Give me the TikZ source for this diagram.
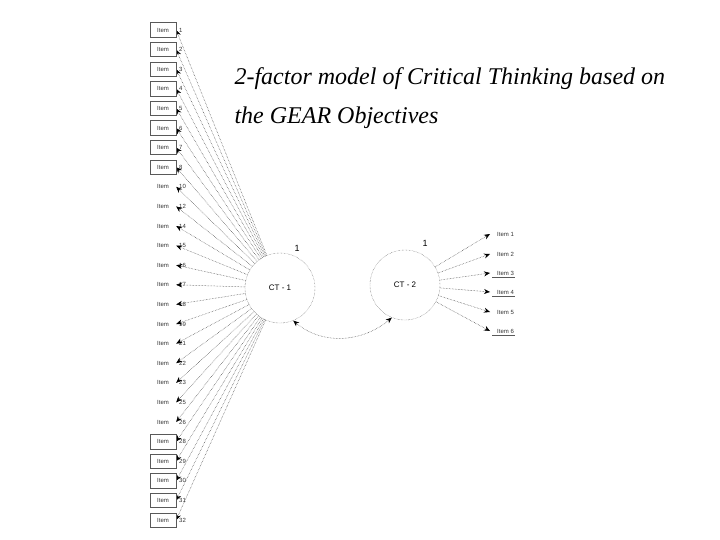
\documentclass[tikz,border=0pt]{standalone}
\usepackage{fontspec}
\setmainfont{Liberation Serif}
\setsansfont{Liberation Sans}
\usetikzlibrary{arrows.meta}
\begin{document}
\begin{tikzpicture}[x=1pt,y=1pt,
  itembox/.style={minimum width=26pt,minimum height=14pt,inner sep=0pt},
  lat/.style={circle,draw=black!70,densely dotted,minimum size=70pt,inner sep=0pt,
    font=\sffamily\fontsize{8}{9}\selectfont},
  ld/.style={draw=black!75,densely dotted,line width=0.5pt,-{Stealth[length=6pt,width=5pt,black]}},
  lbl/.style={font=\sffamily\fontsize{6}{7}\selectfont,text=black!80},
  boxline/.style={draw=black!65,line width=0.6pt},
  titletext/.style={anchor=base west,font=\itshape\fontsize{24}{28}\selectfont}
]
\fill[white] (0,0) rectangle (720,-540);
\useasboundingbox (0,0) rectangle (720,-540);

% latent factors
\node[lat] (ct1) at (280,-288) {CT - 1};
\node[lat] (ct2) at (405,-285) {CT - 2};
\node[font=\sffamily\fontsize{9}{10}\selectfont] (v1) at (297,-248) {1};
\node[font=\sffamily\fontsize{9}{10}\selectfont] (v2) at (425,-243) {1};

% left items
\foreach \lab [count=\i] in {1,2,3,4,5,6,7,8,10,12,14,15,16,17,18,19,21,22,23,25,26,28,29,30,31,32} {
  \pgfmathsetmacro\yy{-(30+19.6*(\i-1))}
  \node[itembox,lbl] (L\i) at (163,\yy) {Item};
  \node[lbl,anchor=west,inner sep=0pt] (Ln\i) at (179,\yy) {\lab};
  \draw[ld] (ct1) -- (L\i.east);
}
\foreach \i in {1,...,8,22,23,24,25,26} {
  \draw[boxline] (L\i.south west) rectangle (L\i.north east);
}

% right items
\foreach \lab/\yy [count=\i] in {1/234,2/254,3/273,4/292,5/312,6/331} {
  \node[lbl,anchor=west,inner sep=1pt] (R\i) at (496,-\yy) {Item \lab};
  \draw[ld] (ct2) -- ([xshift=-6pt]R\i.west);
}
\foreach \i in {3,4,6} {
  \draw[boxline] ([xshift=-4pt,yshift=-1pt]R\i.south west) -- ([yshift=-1pt]R\i.south east);
}

% factor correlation
\draw[draw=black!75,densely dotted,line width=0.5pt,
  {Stealth[length=6pt,width=5pt,black]}-{Stealth[length=6pt,width=5pt,black]}]
  (ct1.-68) to[out=-40,in=-140] (ct2.-112);

% title
\node[titletext] (t1) at (231,-85) {2-factor model of Critical Thinking based on};
\node[titletext] (t2) at (231,-124) {the GEAR Objectives};
\end{tikzpicture}
\end{document}
